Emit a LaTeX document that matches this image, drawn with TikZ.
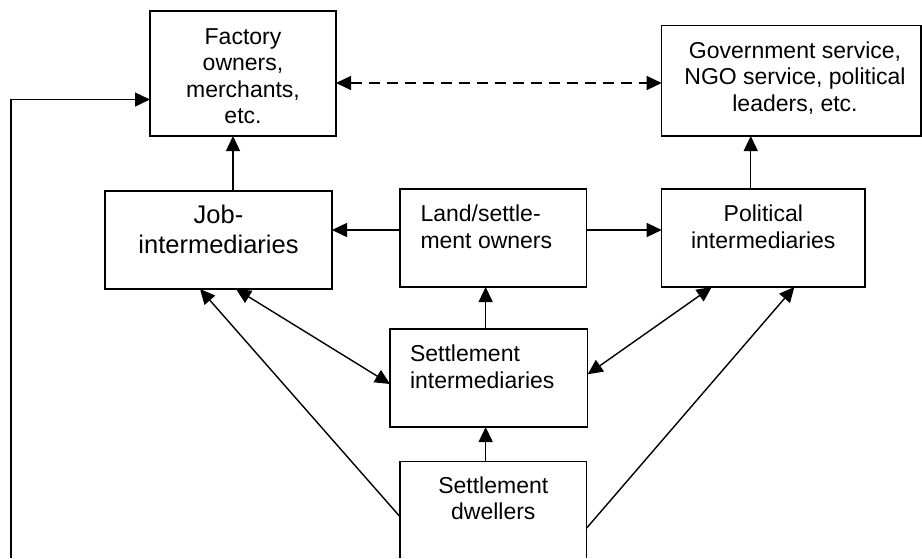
\documentclass[tikz,border=0pt]{standalone}
\usepackage{fontspec}
\setmainfont{Liberation Sans}
\usetikzlibrary{arrows.meta}
\tikzset{
  box/.style={draw, line width=1.4pt, inner sep=0pt, outer sep=0pt, anchor=north west},
  lbl/.style={inner sep=0pt, outer sep=0pt, font=\fontsize{23}{26.5}\selectfont},
  arr/.style={line width=1.4pt, -{Triangle[length=15pt,width=14pt]}},
  darr/.style={line width=1.4pt, {Triangle[length=15pt,width=14pt]}-{Triangle[length=15pt,width=14pt]}},
}
\begin{document}
\begin{tikzpicture}[x=1pt,y=-1pt]
\useasboundingbox (0,0) rectangle (922,558);
% boxes
\node[box, minimum width=186pt, minimum height=125pt] (fac) at (150,11) {};
\node[box, minimum width=259.3pt, minimum height=110.3pt] (gov) at (661.7,25.7) {};
\node[box, minimum width=227pt, minimum height=98pt] (job) at (105,191) {};
\node[box, minimum width=186.7pt, minimum height=98pt] (land) at (400,189) {};
\node[box, minimum width=203.3pt, minimum height=98pt] (pol) at (661.7,189) {};
\node[box, minimum width=197.7pt, minimum height=98pt] (sint) at (390,329) {};
\node[inner sep=0pt, outer sep=0pt, anchor=north west, minimum width=186.7pt, minimum height=96.3pt] (dwel) at (400,461.7) {};
\draw[line width=1.4pt] (dwel.south west) -- (dwel.north west) -- (dwel.north east) -- (dwel.south east);
% labels
\node[lbl, anchor=north, align=center] (tfac) at (243,28.5) {Factory\\owners,\\merchants,\\etc.};
\node[lbl, anchor=north, align=center] (tgov) at (795,41.5) {Government service,\\NGO service, political\\leaders, etc.};
\node[lbl, anchor=north, align=center, font=\fontsize{25.5}{30}\selectfont] (tjob) at (218.5,205) {Job-\\intermediaries};
\node[lbl, anchor=north west, align=left] (tland) at (420.5,205) {Land/settle-\\ment owners};
\node[lbl, anchor=north, align=center] (tpol) at (763.3,205.2) {Political\\intermediaries};
\node[lbl, anchor=north west, align=left] (tsint) at (410,345) {Settlement\\intermediaries};
\node[lbl, anchor=north, align=center] (tdwel) at (493.3,476.5) {Settlement\\dwellers};
% connectors
\draw[arr] ([xshift=14.5pt]job.north) coordinate (a1) -- (a1 |- fac.south);
\draw[arr] ([yshift=8pt]land.west) coordinate (a2) -- (a2 -| job.east);
\draw[arr] ([yshift=8pt]land.east) coordinate (a3) -- (a3 -| pol.west);
\draw[arr] ([xshift=-12.6pt]pol.north) coordinate (a4) -- (a4 |- gov.south);
\draw[darr, dash pattern=on 11pt off 7pt] ([yshift=-9.5pt]fac.east) coordinate (a5) -- (a5 -| gov.west);
\draw[arr] ([xshift=-3.2pt]sint.north) coordinate (a6) -- (a6 |- land.south);
\draw[arr] ([xshift=-7.7pt]dwel.north) coordinate (a7) -- (a7 |- sint.south);
\draw[darr] ([xshift=17.5pt]job.south) -- ([yshift=-6pt]sint.west);
\draw[arr] ([yshift=-55pt]dwel.north west) -- ([xshift=-18.5pt]job.south);
\draw[darr] ([yshift=3.7pt]sint.east) -- ([xshift=-51.6pt]pol.south);
\draw[arr] ([yshift=-66.3pt]dwel.north east) -- ([xshift=31pt]pol.south);
% feedback line on the left
\coordinate (lb) at (11,558);
\coordinate (lc) at (11,99.5);
\draw[arr] (lb) -- (lc) -- (lc -| fac.west);
\end{tikzpicture}
\end{document}
